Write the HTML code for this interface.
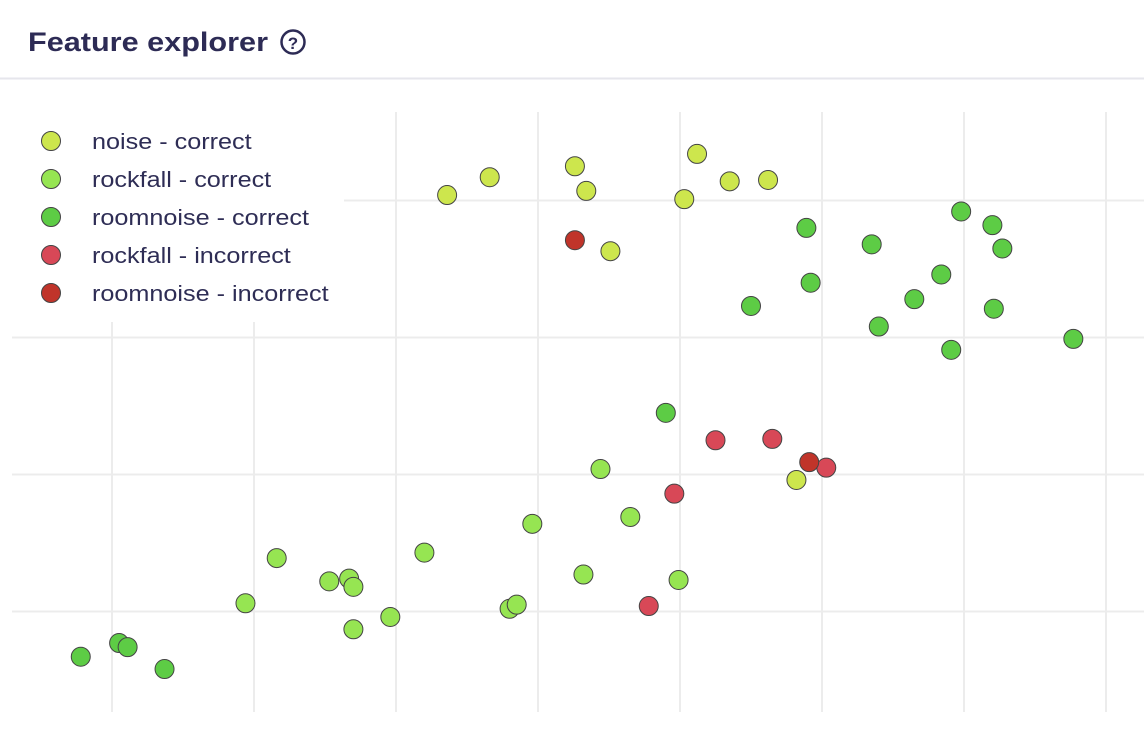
<!DOCTYPE html>
<html><head><meta charset="utf-8"><style>
body{margin:0;width:1144px;height:736px;background:#fff;overflow:hidden;font-family:"Liberation Sans",sans-serif}
svg{position:absolute;left:0;top:0}
</style></head><body>
<svg width="1144" height="736">
<text x="28" y="51" font-size="27" font-weight="bold" fill="#2d2b55" textLength="240" lengthAdjust="spacingAndGlyphs">Feature explorer</text>
<g><circle cx="293" cy="42" r="11.5" fill="none" stroke="#2d2b55" stroke-width="2.5"/><text x="293" y="49" font-size="17" font-weight="bold" text-anchor="middle" fill="#2d2b55">?</text></g>
<line x1="0" y1="78.5" x2="1144" y2="78.5" stroke="#e6e6ec" stroke-width="2"/>
<g id="grid"></g>
<rect x="0" y="100" width="344" height="222" fill="#fff"/>
<g id="pts"></g>
<g id="legend"></g>
</svg>
<script>
const seriesNames=["noise - correct","rockfall - correct","roomnoise - correct","rockfall - incorrect","roomnoise - incorrect"];
const seriesColors=["#cde64d","#96e552","#5dcc45","#d84857","#c0342a"];
const noiseX=[2.36,2.66,3.26,3.34,3.51,4.03,4.12,4.35,4.62,4.82];
const noiseY=[3.04,3.17,3.25,3.07,2.63,3.01,3.34,3.14,3.15,0.96];
const rockX=[1.16,0.94,1.53,1.67,1.70,1.70,1.96,2.20,2.80,2.85,2.96,3.32,3.44,3.65,3.99];
const rockY=[0.39,0.06,0.22,0.24,0.18,-0.13,-0.04,0.43,0.02,0.05,0.64,0.27,1.04,0.69,0.23];
const roomX=[-0.22,0.05,0.11,0.37,3.90,4.50,4.89,4.92,5.35,5.40,5.65,5.84,5.91,5.98,6.20,6.27,6.21,6.77];
const roomY=[-0.33,-0.23,-0.26,-0.42,1.45,2.23,2.80,2.40,2.68,2.08,2.28,2.46,1.91,2.92,2.82,2.65,2.21,1.99];
const rockIncX=[4.25,4.65,5.03,3.96,3.78];
const rockIncY=[1.25,1.26,1.05,0.86,0.04];
const roomIncX=[3.26,4.91];
const roomIncY=[2.71,1.09];
const xTicks=[0,1,2,3,4,5,6,7];
const yTicks=[0,1,2,3];
const X=v=>112+142*v, Y=v=>611.5-137*v;
const NS="http://www.w3.org/2000/svg";
const grid=document.getElementById('grid');
xTicks.forEach(t=>{const l=document.createElementNS(NS,'line');


l.setAttribute('x1',X(t));l.setAttribute('x2',X(t));l.setAttribute('y1',112);l.setAttribute('y2',712);l.setAttribute('stroke','#ececec');l.setAttribute('stroke-width','2');grid.appendChild(l);});
yTicks.forEach(t=>{const l=document.createElementNS(NS,'line');


l.setAttribute('x1',12);l.setAttribute('x2',1144);l.setAttribute('y1',Y(t));l.setAttribute('y2',Y(t));l.setAttribute('stroke','#ececec');l.setAttribute('stroke-width','2');grid.appendChild(l);});
const series=[[noiseX,noiseY],[rockX,rockY],[roomX,roomY],[rockIncX,rockIncY],[roomIncX,roomIncY]];
const pts=document.getElementById('pts');
series.forEach((s,i)=>{s[0].forEach((x,j)=>{const c=document.createElementNS(NS,'circle');


c.setAttribute('cx',X(x));c.setAttribute('cy',Y(s[1][j]));c.setAttribute('r',9.5);c.setAttribute('fill',seriesColors[i]);c.setAttribute('stroke','#444');c.setAttribute('stroke-width','1');pts.appendChild(c);});});
const lg=document.getElementById('legend');
seriesNames.forEach((n,i)=>{const y=141+38*i;
const g=document.createElementNS(NS,'g');


const c=document.createElementNS(NS,'circle');c.setAttribute('cx',51);c.setAttribute('cy',y);c.setAttribute('r',9.5);c.setAttribute('fill',seriesColors[i]);c.setAttribute('stroke','#444');c.setAttribute('stroke-width','1');
const t=document.createElementNS(NS,'text');t.setAttribute('x',92);t.setAttribute('y',y+8);t.setAttribute('font-size','22');t.setAttribute('fill','#2e2d55');t.textContent=n;
g.appendChild(c);g.appendChild(t);lg.appendChild(g);
const w=t.getComputedTextLength();t.setAttribute('textLength',(w*1.145).toFixed(1));t.setAttribute('lengthAdjust','spacingAndGlyphs');});
</script>
</body></html>
